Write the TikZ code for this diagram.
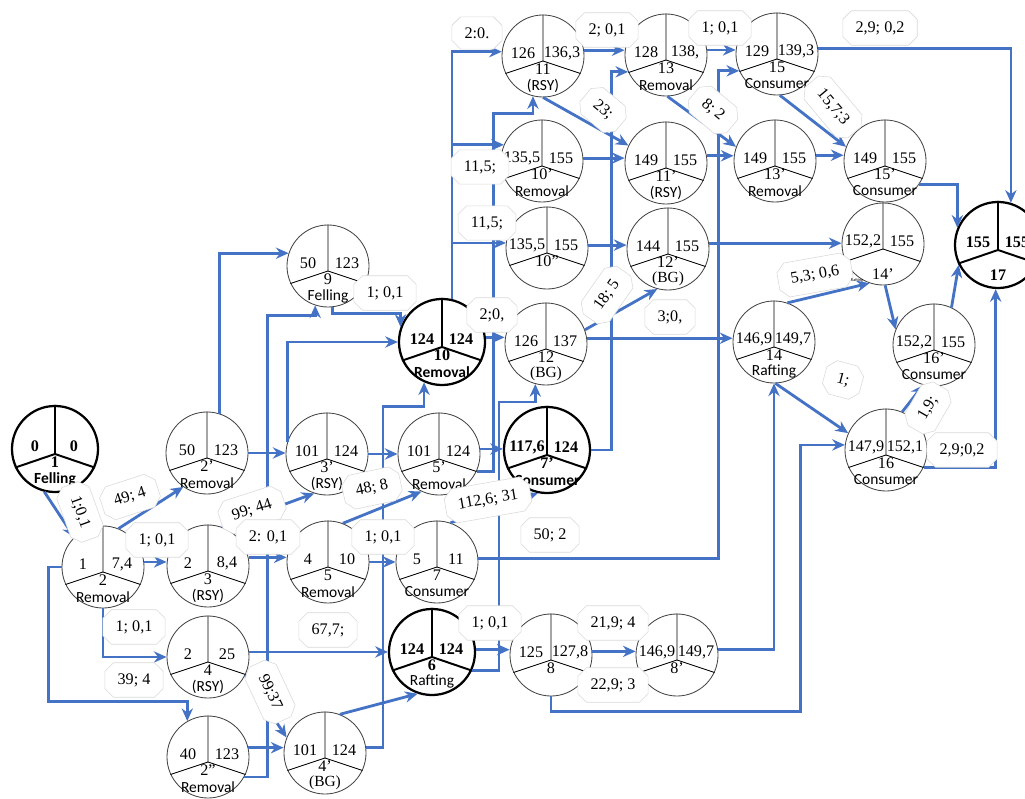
\documentclass[tikz,border=0pt]{standalone}
\usepackage{fontspec}
\setmainfont{Liberation Serif}
\setsansfont{Carlito}
\usetikzlibrary{calc,arrows.meta,shapes.misc}
\definecolor{linkblue}{RGB}{68,114,196}
\definecolor{rimgray}{RGB}{70,70,70}
\newcommand{\fs}{\fontsize{11.5}{13}\selectfont}
\newcommand{\fk}{\fontsize{11}{13}\selectfont}
\tikzset{
  ev/.style={circle, draw=rimgray, line width=0.6pt, fill=white, minimum size=2.05cm, inner sep=0pt},
  evb/.style={circle, draw=black, line width=1.6pt, fill=white, minimum size=2.15cm, inner sep=0pt},
  split/.style={line width=0.6pt, black},
  splitb/.style={line width=1.4pt, black},
  val/.style={font=\fs, inner sep=0pt},
  valb/.style={font=\fs\bfseries, inner sep=0pt},
  num/.style={font=\fs, inner sep=0pt},
  numb/.style={font=\fs\bfseries, inner sep=0pt},
  kind/.style={font=\fk\sffamily, inner sep=0pt},
  kindb/.style={font=\fk\sffamily\bfseries, inner sep=0pt},
  link/.style={draw=linkblue, line width=2pt, -{Stealth[length=9pt,width=8pt]}},
  tag/.style={chamfered rectangle, draw=gray!30, fill=white, font=\fs, inner xsep=6pt, inner ysep=4.5pt}
}
% #1 b for bold, #2 name, #3 position, #4 left, #5 right, #6 number, #7 kind
\newcommand{\evt}[7][]{%
  \node[ev#1] (#2) at (#3) {};
  \draw[split#1] (#2.north) -- ($(#2.center)+(0,5)$) -- (#2.205);
  \draw[split#1] ($(#2.center)+(0,5)$) -- (#2.-25);
  \node[val#1]  (#2-l) at ($(#2.center)+(-20,-3)$) {#4};
  \node[val#1]  (#2-r) at ($(#2.center)+(19,-3)$)  {#5};
  \node[num#1]  (#2-n) at ($(#2.center)+(0,13)$)  {#6};
  \node[kind#1] (#2-k) at ($(#2.center)+(0,30)$)  {#7};
}

\begin{document}
\begin{tikzpicture}[x=0.025cm, y=-0.025cm]
        \useasboundingbox (0,0) rectangle (1025,799);
        % events
        \evt[b]{n1}{55,449}{0}{0}{1}{Felling}                     %
        \evt{n2}{103,567}{1}{7,4}{2}{Removal}                     %
        \evt{n2a}{207,453}{50}{123}{2'}{Removal}                  %2'
        \evt{n3}{208,566}{2}{8,4}{3}{(RSY)}                       %
        \evt{n4}{208,657}{2}{25}{4}{(RSY)}                        %
        \evt{n2b}{208,757}{40}{123}{2''}{Removal}                 %2''
        \evt{n9}{328,266}{50}{123}{9}{Felling}                    %
        \evt{n3a}{327,454}{101}{124}{3'}{(RSY)}                   %3'
        \evt{n5}{328,562}{4}{10}{5}{Removal}                      %
        \evt{n4a}{325,753}{101}{124}{4'}{\rmfamily(BG)}           %4'
        \evt[b]{n10}{442,342}{124}{124}{10}{Removal}              %
        \evt{n5a}{439,454}{101}{124}{5'}{Removal}                 %5'
        \evt{n7}{437,562}{5}{11}{7}{Consumer}                     %
        \evt[b]{n6}{432,652}{124}{124}{6}{\mdseries Rafting}      %
        \evt{n11}{543,56}{126}{136,3}{11}{(RSY)}                  %
        \evt{n10a}{542,161}{135,5}{155}{10'}{Removal}             %10'
        \evt{n10b}{547,248}{135,5}{155}{10''}{}                   %10''
        \evt{n12}{546,344}{126}{137}{12}{\rmfamily(BG)}           %
        \evt[b]{n7a}{547,450}{117,6}{124}{7'}{Consumer}           %7'
        \evt{n8}{551,655}{125}{127,8}{8}{}                        %
        \evt{n13}{666,55}{128}{138,}{13}{Removal}                 %
        \evt{n11a}{666,163}{149}{155}{11'}{(RSY)}                 %11'
        \evt{n12a}{668,249}{144}{155}{12'}{\rmfamily(BG)}         %12'
        \evt{n8a}{677,655}{146,9}{149,7}{8'}{}                    %8'
        \evt{n15}{777,54}{129}{139,3}{15}{Consumer}               %
        \evt{n13a}{775,161}{149}{155}{13'}{Removal}               %13'
        \evt{n14}{774,342}{146,9}{149,7}{14}{Rafting}             %
        \evt{n15a}{885,161}{149}{155}{15'}{Consumer}              %15'
        \evt{n14a}{883,244}{152,2}{155}{}{\rmfamily\fs 14'}       %14'
        \evt{n16a}{934,345}{152,2}{155}{16'}{Consumer}            %16'
        \evt{n16}{886,450}{147,9}{152,1}{16}{Consumer}            %
        \evt[b]{n17}{998,245}{155}{155}{}{\rmfamily\fs 17}        %
        % works
        \draw[link] (n1.-104) -- (n2.134);                        %1-2
        \draw[link] (n2.68) -- (n2a.235);                         %2-2'
        \draw[link] (n2.7) -- (n2.7 -| n3.west);                  %2-3
        \draw[link] (n2.south) |- (n4.west);                      %2-4
        \draw[link] (n2.west) -- ++(-13,0) |- ($(n2b.120)+(0,-20)$) -- (n2b.120);
        \draw[link] (n2a.72) |- (n9.162);                         %2'-9
        \draw[link] (n2a.east) -- (n2a.east -| n3a.west);         %2'-3'
        \draw[link] (n3.70) -- (n3a.252);                         %3-3'
        \draw[link] (n3.12) -- (n3.12 -| n5.west);                %3-5
        \draw[link] (n2b.-29) -- ++(23,0) |- ($(n9.252)+(0,10)$) -- (n9.252);
        \draw[link] (n2b.13) -- (n2b.13 -| n4a.west);             %2''-4'
        \draw[link] (n4.-26) -- (n4a.158);                        %4-4'
        \draw[link] (n4.7) -- (n4.7 -| n6.west);                  %4-6
        \draw[link] (n4a.69) -- (n6.251);                         %4'-6
        \draw[link] (n4a.8) -- ++(17,0) |- ($(n10.246)+(0,24)$) -- (n10.246);
        \draw[link] (n3a.163) |- (n10.west);                      %3'-10
        \draw[link] (n3a.east) -- (n3a.east -| n5a.west);         %3'-5'
        \draw[link] (n9.-84) |- ($(n10.160)+(0,-13)$) -- (n10.160);
        \draw[link] (n5.69) -- (n5a.245);                         %5-5'
        \draw[link] (n5.east) -- (n5.east -| n7.west);            %5-7
        \draw[link] (n5a.7) -- (n5a.7 -| n7a.west);               %5'-7'
        \draw[link] (n5a.-25) -- ++(17,0) |- ($(n11.256)+(0,17)$) -- (n11.256);
        \draw[link] (n6.3) -- (n6.3 -| n8.west);                  %6-8
        \draw[link] (n6.-25) -- ++(27,0) |- ($(n12.255)+(0,18)$) -- (n12.255);
        \draw[link] (n7.71) -- (n7a.258);                         %7-7'
        \draw[link] (n7.5) -| ($(n15.204)+(-21,0)$) -- (n15.204); %7-15
        \draw[link] (n7a.east) -| ($(n13.204)+(-17,0)$) -- (n13.204);
        \draw[link] (n8.5) -- (n8.5 -| n8a.west);                 %8-8'
        \draw[link] (n8.south) -- ++(0,15) -| ($(n16.173)+(-44,0)$) -- (n16.173);
        \draw[link] (n8a.8) -| (n14.south);                       %8'-14
        \draw[link] (n14.-88) -- (n16.156);                       %14-16
        \draw[link] (n10.77) |- (n11.174);                        %10-11
        \draw[link] (n10.77) |- (n10a.157);                       %10-10'
        \draw[link] (n10.77) |- (n10b.173);                       %10-10''
        \draw[link] (n10.6) -- (n10.6 -| n12.west);               %10-12
        \draw[link] (n11.8) -- (n11.8 -| n13.west);               %11-13
        \draw[link] (n11.south) -- (n11a.155);                    %11-11'
        \draw[link] (n10a.4) -- (n10a.4 -| n11a.west);            %10'-11'
        \draw[link] (n10b.4) -- (n10b.4 -| n12a.west);            %10''-12'
        \draw[link] (n12.20) -- (n12a.255);                       %12-12'
        \draw[link] (n12.8) -- (n12.8 -| n14.west);               %12-14
        \draw[link] (n12a.8) -- (n12a.8 -| n14a.west);            %12'-14'
        \draw[link] (n13.7) -- (n13.7 -| n15.west);               %13-15
        \draw[link] (n13.-88) -- (n13a.160);                      %13-13'
        \draw[link] (n11a.10) -- (n11a.10 -| n13a.west);          %11'-13'
        \draw[link] (n13a.8) -- (n13a.8 -| n15a.west);            %13'-15'
        \draw[link] (n15.-86) -- (n15a.160);                      %15-15'
        \draw[link] (n15.8) -| (n17.73);                          %15-17
        \draw[link] (n15a.-35) -| (n17.157);                      %15'-17
        \draw[link] (n14.71) -- (n14a.251);                       %14-14'
        \draw[link] (n14a.-87) -- (n16a.158);                     %14'-16'
        \draw[link] (n16.67) -- (n16a.255);                       %16-16'
        \draw[link] (n16.-25) -| (n17.-93);                       %16-17
        \draw[link] (n16a.65) -- (n17.207);                       %16'-17
        % durations
        \node[tag, rotate=-70] (t1)  at (80,512)  {1;0,1};        %
        \node[tag, rotate=18]  (t2)  at (130,497) {49; 4};        %
        \node[tag]             (t3)  at (157,540) {1; 0,1};       %
        \node[tag]             (t4)  at (134,627) {1; 0,1};       %
        \node[tag]             (t5)  at (134,680) {39; 4};        %
        \node[tag, rotate=18]  (t6)  at (252,510) {99; 44};       %
        \node[tag]             (t7)  at (268,537) {2: 0,1};       %
        \node[tag]             (t8)  at (385,293) {1; 0,1};       %
        \node[tag, rotate=12]  (t9)  at (372,488) {48; 8};        %
        \node[tag]             (t10) at (383,537) {1; 0,1};       %
        \node[tag, rotate=10]  (t11) at (488,500) {112,6; 31};    %
        \node[tag]             (t12) at (550,535) {50; 2};        %
        \node[tag]             (t13) at (328,630) {67,7;};        %
        \node[tag, rotate=-65] (t14) at (270,692) {99;37};        %
        \node[tag]             (t15) at (490,623) {1; 0,1};       %
        \node[tag]             (t16) at (613,623) {21,9; 4};      %
        \node[tag]             (t17) at (613,685) {22,9; 3};      %
        \node[tag]             (t18) at (477,33)  {2:0.};         %
        \node[tag]             (t19) at (607,30)  {2; 0,1};       %
        \node[tag]             (t20) at (720,28)  {1; 0,1};       %
        \node[tag]             (t21) at (880,28)  {2,9; 0,2};     %
        \node[tag, rotate=-40] (t22) at (603,110) {23;};          %
        \node[tag, rotate=-40] (t23) at (713,110) {8; 2};         %
        \node[tag, rotate=-50] (t24) at (833,107) {15,7;3};       %
        \node[tag]             (t25) at (480,167) {11,5;};        %
        \node[tag]             (t26) at (487,223) {11,5;};        %
        \node[tag]             (t27) at (492,315) {2;0,};         %
        \node[tag, rotate=55]  (t28) at (607,295) {18; 5};        %
        \node[tag]             (t29) at (670,317) {3;0,};         %
        \node[tag, rotate=10]  (t30) at (815,275) {5,3; 0,6};     %
        \node[font=\sffamily\fontsize{3}{3}\selectfont, inner sep=0pt] (t31) at (857,280) {Rafting};
        \node[tag, rotate=-15] (t32) at (843,380) {1;};           %
        \node[tag, rotate=60]  (t33) at (928,408) {1,9;};         %
        \node[tag]             (t34) at (962,450) {2,9;0,2};      %
\end{tikzpicture}
\end{document}
